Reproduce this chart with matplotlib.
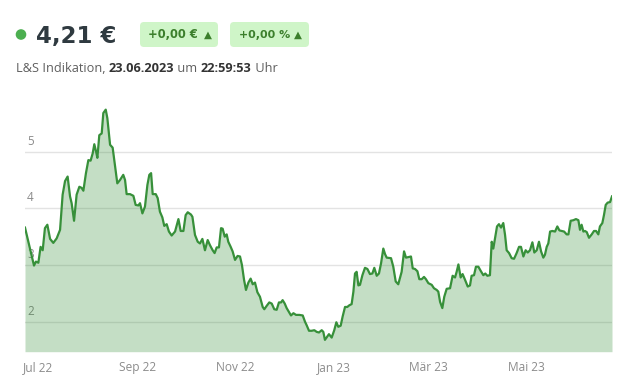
import numpy as np
import pandas as pd
import matplotlib
matplotlib.use("Agg")
import matplotlib.pyplot as plt
import matplotlib.transforms as mtransforms
from matplotlib.patches import FancyBboxPatch, Circle

# ---------------------------------------------------------------------
# Data
# ---------------------------------------------------------------------
START = pd.Timestamp("2022-06-23")

days = [
    0.0, 2.1, 3.5, 4.8, 5.6, 6.8, 8.3, 9.7, 11.0, 12.4, 13.9, 15.6, 17.6, 19.7, 21.8,
    23.4, 24.9, 26.5, 28.0, 29.0, 30.5, 32.1, 33.8, 35.2, 36.3, 37.9, 39.4, 40.8,
    42.1, 43.1, 44.2, 45.0, 46.2, 47.7, 48.7, 50.2, 51.2, 52.9, 54.5, 56.0, 57.4,
    59.1, 61.1, 62.2, 63.2, 65.3, 67.4, 68.8, 70.5, 71.5, 73.0, 74.6, 76.1, 77.3,
    78.4, 79.4, 81.3, 82.5, 83.9, 85.4, 86.6, 88.1, 89.5, 91.2, 93.3, 95.4, 96.8,
    98.5, 99.9, 101.2, 103.2, 104.1, 105.7, 107.4, 108.8, 110.3, 111.9, 113.6,
    115.0, 116.7, 117.9, 119.2, 120.6, 121.9, 122.9, 124.2, 125.4, 126.4, 127.9,
    129.1, 130.6, 132.2, 133.7, 134.9, 136.2, 137.4, 138.9, 140.3, 141.6, 143.0,
    144.5, 146.1, 147.8, 148.8, 150.3, 151.9, 153.4, 155.0, 156.5, 157.9, 159.2,
    160.2, 161.5, 162.7, 164.4, 165.4, 166.9, 168.5, 170.6, 172.7, 174.1, 175.1,
    176.6, 178.3, 179.9, 181.4, 182.8, 184.5, 185.5, 186.5, 188.0, 189.0, 190.7,
    192.3, 193.6, 194.8, 196.3, 197.5, 199.0, 200.4, 201.7, 203.1, 204.2, 205.2,
    206.2, 207.3, 208.3, 209.8, 211.4, 212.9, 214.5, 216.0, 217.2, 218.7, 220.1,
    221.4, 222.8, 223.9, 224.9, 227.6, 229.0, 230.5, 232.1, 234.2, 235.7, 236.9,
    238.4, 240.0, 241.1, 242.5, 244.0, 245.2, 246.7, 248.1, 249.3, 250.8, 252.9,
    254.3, 256.0, 257.0, 258.1, 259.5, 260.7, 262.2, 264.3, 265.9, 267.4, 268.4,
    269.5, 270.9, 272.1, 273.6, 275.3, 276.7, 277.7, 279.2, 280.4, 281.9, 283.5,
    285.0, 286.2, 287.5, 289.1, 290.2, 291.2, 293.5, 294.7, 296.0, 297.4, 298.5,
    299.5, 301.0, 302.6, 304.1, 305.7, 307.2, 308.4, 309.9, 311.3, 312.6, 314.0,
    315.5, 316.7, 318.2, 319.6, 320.9, 322.3, 323.3, 324.4, 325.4, 326.5, 327.9,
    329.6, 331.0, 332.3, 333.7, 335.2, 336.8, 337.9, 339.3, 341.0, 342.6, 344.1,
    345.1, 346.1, 347.2, 348.2, 349.3, 350.7, 352.4, 353.8, 355.1, 356.5, 357.5,
    359.0, 360.0, 361.1, 362.3, 363.8, 364.8, 365.0,
]

prices = [
    3.66, 3.41, 3.24, 3.09, 2.99, 3.06, 3.04, 3.32, 3.26, 3.65, 3.71, 3.46, 3.39, 3.47, 3.62,
    4.24, 4.48, 4.56, 4.21, 4.09, 3.78, 4.24, 4.38, 4.36, 4.31, 4.62, 4.85, 4.84,
    4.97, 5.13, 5.00, 4.89, 5.29, 5.32, 5.68, 5.74, 5.59, 5.12, 5.07, 4.74, 4.44,
    4.50, 4.59, 4.50, 4.25, 4.25, 4.22, 4.06, 4.05, 4.09, 3.91, 4.03, 4.41, 4.59,
    4.62, 4.25, 4.25, 4.18, 3.94, 3.84, 3.69, 3.72, 3.59, 3.52, 3.59, 3.81, 3.60,
    3.60, 3.88, 3.93, 3.89, 3.85, 3.53, 3.41, 3.38, 3.46, 3.26, 3.44,
    3.35, 3.26, 3.21, 3.31, 3.31, 3.65, 3.64, 3.50, 3.54, 3.41, 3.32,
    3.24, 3.09, 3.16, 3.15, 3.00, 2.74, 2.56, 2.69, 2.76, 2.66, 2.69,
    2.52, 2.44, 2.26, 2.22, 2.28, 2.34, 2.32, 2.22, 2.21, 2.34, 2.34,
    2.38, 2.32, 2.24, 2.16, 2.11, 2.15, 2.12, 2.12, 2.11, 2.00, 1.94,
    1.84, 1.84, 1.85, 1.82, 1.81, 1.85, 1.82, 1.68, 1.74, 1.78, 1.72,
    1.85, 1.99, 1.91, 1.93, 2.09, 2.26, 2.26, 2.29, 2.31, 2.53, 2.85,
    2.88, 2.64, 2.65, 2.82, 2.95, 2.93, 2.84, 2.85, 2.95, 2.81, 2.85,
    3.03, 3.29, 3.19, 3.13, 3.12, 2.97, 2.71, 2.66, 2.88, 3.24, 3.13,
    3.14, 3.15, 2.94, 2.93, 2.89, 2.75, 2.75, 2.79, 2.75, 2.68, 2.65,
    2.59, 2.56, 2.53, 2.35, 2.24, 2.44, 2.58, 2.59, 2.81, 2.78, 2.88,
    3.01, 2.78, 2.84, 2.74, 2.62, 2.64, 2.81, 2.82, 2.97, 2.97, 2.89,
    2.82, 2.85, 2.81, 2.82, 3.41, 3.29, 3.68, 3.72, 3.66, 3.74, 3.53,
    3.26, 3.21, 3.12, 3.11, 3.21, 3.32, 3.32, 3.15, 3.26, 3.22, 3.26,
    3.40, 3.22, 3.26, 3.41, 3.24, 3.13, 3.18, 3.32, 3.38, 3.59, 3.60,
    3.59, 3.68, 3.61, 3.60, 3.59, 3.54, 3.54, 3.78, 3.79, 3.81, 3.79,
    3.62, 3.71, 3.59, 3.60, 3.58, 3.48, 3.54, 3.60, 3.60, 3.54, 3.68,
    3.74, 3.88, 4.06, 4.10, 4.11, 4.19, 4.21,
]

month_ticks = ["2022-07-01", "2022-09-01", "2022-11-01", "2023-01-01", "2023-03-01", "2023-05-01"]
month_labels = ["Jul 22", "Sep 22", "Nov 22", "Jan 23", "Mär 23", "Mai 23"]
y_ticks = [2, 3, 4, 5]
y_labels = ["2", "3", "4", "5"]

last_price = "4,21 €"
change_abs = "+0,00 €"
change_pct = "+0,00 %"
sub_parts = [("L&S Indikation, ", False), ("23.06.2023", True), (" um ", False),
             ("22:59:53", True), (" Uhr", False)]

# ---------------------------------------------------------------------
# Style
# ---------------------------------------------------------------------
W, H = 628, 379
FONT = ["Open Sans", "DejaVu Sans"]
WIDE = ["DejaVu Sans"]
LINE_C = "#37903a"
FILL_C = "#2e8b30"
GRID_C = "#e3e3e3"
TICK_C = "#8c8c8c"
DARK = "#2f3a40"
BADGE_BG = "#cff5c8"
BADGE_FG = "#3c7f2c"

plt.rcParams["font.family"] = FONT


def fy(y):
    # pixel y from top -> display y from bottom
    return H - y


fig = plt.figure(figsize=(W / 100, H / 100), dpi=100)
fig.patch.set_facecolor("white")
ident = mtransforms.IdentityTransform()

# --- chart area
ax = fig.add_axes([25 / W, (H - 351.7) / H, 587 / W, (351.7 - 100) / H])
dates = START + pd.to_timedelta(days, unit="D")

ax.set_xlim(dates[0], dates[-1])
ax.set_ylim(1.471, 5.91)

for v in y_ticks:
    ax.axhline(v, color=GRID_C, lw=1.0, zorder=1)
ax.fill_between(dates, prices, 1.471, color=FILL_C, alpha=0.28, lw=0, zorder=2)
ax.plot(dates, prices, color=LINE_C, lw=1.6, solid_joinstyle="round", zorder=3)

for sp in ax.spines.values():
    sp.set_visible(False)
ax.set_yticks([])
ax.set_xticks(pd.to_datetime(month_ticks))
ax.set_xticklabels(month_labels)
ax.tick_params(axis="x", length=0, pad=7, labelsize=8.6, labelcolor=TICK_C)

ylab_tr = mtransforms.blended_transform_factory(ax.transAxes, ax.transData)
ylab_tr = ylab_tr + mtransforms.ScaledTranslation(2 / 100, 4 / 100, fig.dpi_scale_trans)
for v, lab in zip(y_ticks, y_labels):
    ax.text(0, v, lab, transform=ylab_tr, ha="left", va="bottom",
            fontsize=8.4, color=TICK_C, zorder=1.5)

# --- header
fig.patches.append(Circle((21, fy(34.5)), 4.6, transform=ident, color="#4caf50", figure=fig))
fig.text(36 / W, 1 - 42.5 / H, last_price, fontsize=16.5, fontweight="bold",
         color=DARK, ha="left", va="baseline", family=WIDE)

# badges: (left, right, text start, text size, triangle centre)
badges = [(140, 218, 148, 8.3, 208, change_abs), (230, 309, 239, 7.9, 298, change_pct)]
for x0, x1, tx, fs, tri_x, txt in badges:
    box = FancyBboxPatch((x0, fy(47)), x1 - x0, 25, boxstyle="round,pad=0,rounding_size=4",
                         transform=ident, facecolor=BADGE_BG, edgecolor="none", figure=fig)
    fig.patches.append(box)
    fig.text(tx / W, 1 - 38.5 / H, txt, fontsize=fs, fontweight="bold",
             color=BADGE_FG, ha="left", va="baseline", family=WIDE)
    fig.text(tri_x / W, 1 - 35 / H, "▲", fontsize=7.5, color=BADGE_FG,
             ha="center", va="center", family=WIDE)

# --- subtitle with mixed weights
renderer = fig.canvas.get_renderer()
x = 16
for txt, bold in sub_parts:
    t = fig.text(x / W, 1 - 72 / H, txt, fontsize=9.2,
                 fontweight="bold" if bold else "normal",
                 color="#333333" if bold else "#5f5f5f", ha="left", va="baseline")
    x += t.get_window_extent(renderer).width

fig.savefig("out.png", dpi=100)
